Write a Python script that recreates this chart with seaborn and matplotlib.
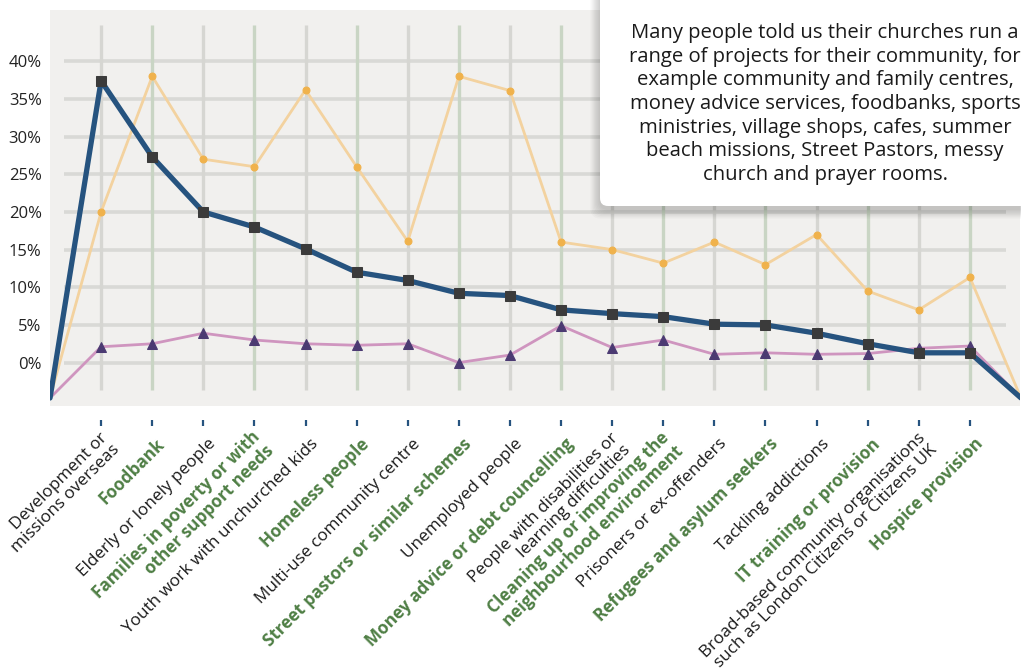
import numpy as np
import pandas as pd
import matplotlib.pyplot as plt
import matplotlib.transforms as mtransforms
from matplotlib.patches import FancyBboxPatch
import seaborn as sns

# ── Data ─────────────────────────────────────────────────────────────────────

categories = [
    "Development or\nmissions overseas",
    "Foodbank",
    "Elderly or lonely people",
    "Families in poverty or with\nother support needs",
    "Youth work with unchurched kids",
    "Homeless people",
    "Multi-use community centre",
    "Street pastors or similar schemes",
    "Unemployed people",
    "Money advice or debt councelling",
    "People with disabilities or\nlearning difficulties",
    "Cleaning up or improving the\nneighbourhood environment",
    "Prisoners or ex-offenders",
    "Refugees and asylum seekers",
    "Tackling addictions",
    "IT training or provision",
    "Broad-based community organisations\nsuch as London Citizens or Citizens UK",
    "Hospice provision",
]
highlighted = [i % 2 == 1 for i in range(len(categories))]

share_blue = [37.4, 27.3, 20.0, 18.0, 15.1, 12.0, 10.9, 9.2, 8.9,
              7.0, 6.5, 6.1, 5.1, 5.0, 3.9, 2.5, 1.3, 1.3]
share_orange = [20.0, 38.0, 27.0, 26.0, 36.2, 26.0, 16.1, 38.0, 36.1,
                16.0, 15.0, 13.2, 16.0, 13.0, 17.0, 9.5, 7.0, 11.3]
share_purple = [2.1, 2.5, 3.9, 3.0, 2.5, 2.3, 2.5, 0.0, 1.0,
                4.9, 2.0, 3.0, 1.1, 1.3, 1.1, 1.2, 1.9, 2.2]
edge_value = -4.7   # the lines run off to the bottom corners

y_ticks = [0, 5, 10, 15, 20, 25, 30, 35, 40]

note = ("Many people told us their churches run a\n"
        "range of projects for their community, for\n"
        "example community and family centres,\n"
        "money advice services, foodbanks, sports\n"
        "ministries, village shops, cafes, summer\n"
        "beach missions, Street Pastors, messy\n"
        "church and prayer rooms.")

# ── Style ────────────────────────────────────────────────────────────────────

sns.set_theme(style="white")
plt.rcParams["font.family"] = ["Open Sans", "DejaVu Sans"]

BG = "#f1f0ee"
GRID = "#d9d9d6"
GRID_GREEN = "#c9d5c4"
BLUE = "#26537f"
GREEN_TXT = "#4f7f45"

W, H = 1021, 669
fig = plt.figure(figsize=(W / 100, H / 100), dpi=100)
ax = fig.add_axes([50 / W, 1 - 406 / H, (1020 - 50) / W, (406 - 10) / H])
ax.set_facecolor(BG)
for s in ax.spines.values():
    s.set_visible(False)

n = len(categories)
xs = np.arange(-1, n + 1)


def padded(v):
    return [edge_value] + list(v) + [edge_value]


df = pd.DataFrame({
    "x": xs,
    "blue": padded(share_blue),
    "orange": padded(share_orange),
    "purple": padded(share_purple),
})

# grid
ax.hlines(y_ticks, -0.72, n - 0.3, color=GRID, lw=2.6, zorder=0)
for i in range(n):
    ax.vlines(i, -3.6, 44.8, color=GRID_GREEN if highlighted[i] else "#d6d6d2",
              lw=2.4, zorder=0)

# series
sns.lineplot(data=df, x="x", y="orange", ax=ax, color="#f3d29f", lw=2.0,
             marker="o", markersize=5, markerfacecolor="#f0b24c",
             markeredgecolor="#f0b24c", markevery=slice(1, -1), zorder=2)
sns.lineplot(data=df, x="x", y="purple", ax=ax, color="#cf95bf", lw=2.0,
             marker="^", markersize=7, markerfacecolor="#4b3a72",
             markeredgecolor="#4b3a72", markevery=slice(1, -1), zorder=3)
sns.lineplot(data=df, x="x", y="blue", ax=ax, color=BLUE, lw=3.8,
             marker="s", markersize=7, markerfacecolor="#3b3b3b",
             markeredgecolor="#3b3b3b", markevery=slice(1, -1), zorder=4)

ax.set_xlim(-1.0, n - 0.02)
ax.set_ylim(-5.76, 46.8)
ax.set_xlabel("")
ax.set_ylabel("")

# y axis
ax.set_yticks(y_ticks)
ax.set_yticklabels([f"{v}%" for v in y_ticks], fontsize=12, color="#222222")
ax.tick_params(axis="y", length=0, pad=6)

# x axis: ticks sit a little below the plot area
ax.spines["bottom"].set_position(("outward", 10))
ax.set_xticks(range(n))
ax.set_xticklabels(categories, rotation=45, ha="right", va="center",
                   rotation_mode="anchor", multialignment="right",
                   fontsize=12.3, linespacing=1.1)
ax.tick_params(axis="x", bottom=True, direction="out", length=4.5, width=1.6,
               color=BLUE, pad=11)
shift = mtransforms.ScaledTranslation(0.1, 0, fig.dpi_scale_trans)
for lab, hl in zip(ax.get_xticklabels(), highlighted):
    lab.set_transform(lab.get_transform() + shift)
    if hl:
        lab.set_color(GREEN_TXT)
        lab.set_fontweight("bold")
    else:
        lab.set_color("#1a1a1a")

# note box with soft shadow
bx, by, bw, bh = 6.00, (H - 206) / 100, 5.0, 2.4
for i in range(8):
    p = 0.012 * (i + 1)
    fig.add_artist(FancyBboxPatch(
        (bx - p, by - p - 0.03), bw + 2 * p, bh + 2 * p,
        boxstyle="round,pad=0,rounding_size=0.1",
        transform=fig.dpi_scale_trans, facecolor="black", edgecolor="none",
        alpha=0.025, zorder=5))
fig.add_artist(FancyBboxPatch(
    (bx, by), bw, bh, boxstyle="round,pad=0,rounding_size=0.08",
    transform=fig.dpi_scale_trans, facecolor="white", edgecolor="none",
    zorder=6))
fig.text(825 / W, 1 - 104 / H, note, ha="center", va="center",
         fontsize=14.6, linespacing=1.24, color="#1a1a1a", zorder=7)

fig.savefig("out.png", dpi=100)
